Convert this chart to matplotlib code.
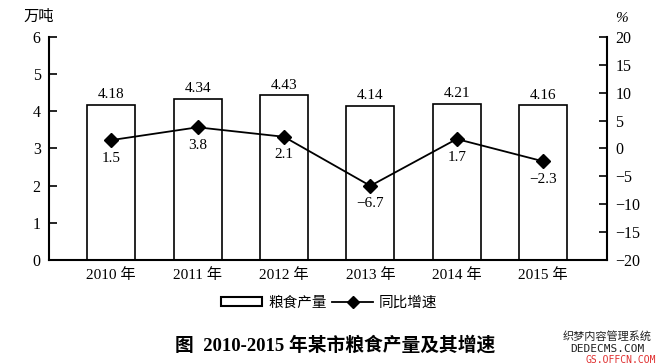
import matplotlib
matplotlib.use("Agg")
import matplotlib.pyplot as plt
from matplotlib.patches import Patch
from matplotlib.lines import Line2D

plt.rcParams['font.family'] = ['Liberation Serif', 'Noto Sans CJK SC']
plt.rcParams['axes.unicode_minus'] = True

years = ["2010 年", "2011 年", "2012 年", "2013 年", "2014 年", "2015 年"]
output = [4.18, 4.34, 4.43, 4.14, 4.21, 4.16]
growth = [1.5, 3.8, 2.1, -6.7, 1.7, -2.3]

fig = plt.figure(figsize=(6.71, 3.64), dpi=100)
ax = fig.add_axes([0.073, 0.2857, 0.8317, 0.6127])
x = list(range(len(years)))

ax.bar(x, output, width=0.556, color='white', edgecolor='black', linewidth=1.2, zorder=2)
ax.set_xlim(-0.72, 5.74)
ax.set_ylim(0, 6)
ax.set_yticks([0, 1, 2, 3, 4, 5, 6])
ax.set_xticks(x)
ax.set_xticklabels(years, fontsize=11)
ax.tick_params(axis='x', length=0, pad=6)
ax.tick_params(axis='y', direction='in', length=6, width=1.2, labelsize=11.5, pad=6)
for s in ['top', 'right']:
    ax.spines[s].set_visible(False)
for s in ['left', 'bottom']:
    ax.spines[s].set_linewidth(1.5)

for xi, v in zip(x, output):
    ax.text(xi, v + 0.1, f"{v:.2f}", ha='center', va='bottom', fontsize=11)

ax2 = ax.twinx()
ax2.plot(x, growth, color='black', linewidth=1.3, marker='D', markersize=7, zorder=3)
ax2.set_ylim(-20, 20)
ax2.set_yticks([-20, -15, -10, -5, 0, 5, 10, 15, 20])
ax2.set_yticklabels([str(t).replace('-', '\u2212') for t in [-20, -15, -10, -5, 0, 5, 10, 15, 20]])
ax2.tick_params(axis='y', direction='in', length=6, width=1.2, labelsize=11.5, pad=6)
for s in ['top', 'left', 'bottom']:
    ax2.spines[s].set_visible(False)
ax2.spines['right'].set_linewidth(1.5)

for xi, v in zip(x, growth):
    lbl = f"{v:.1f}".replace('-', '\u2212')
    ax2.annotate(lbl, (xi, v), xytext=(0, -13), textcoords='offset points',
                 ha='center', va='center', fontsize=11)

fig.text(0.057, 0.955, "万吨", fontsize=11, ha='center', va='center', family=['Noto Sans CJK SC'])
fig.text(0.926, 0.95, "%", fontsize=11, ha='center', va='center', style='italic')

handles = [Patch(facecolor='white', edgecolor='black', linewidth=1.5),
           Line2D([0], [0], color='black', marker='D', markersize=6, linewidth=1.3)]
fig.legend(handles, ["粮食产量", "同比增速"], loc='center', bbox_to_anchor=(0.491, 0.168), ncol=2,
           frameon=False, prop={'family': ['Noto Sans CJK SC'], 'size': 10.5},
           handlelength=2.8, handleheight=0.6, columnspacing=0.4, handletextpad=0.4)

fig.text(0.5, 0.052, "图  2010-2015 年某市粮食产量及其增速", fontsize=13.5, fontweight='bold',
         ha='center', va='center', family=['Liberation Serif', 'Noto Sans CJK SC'])

fig.text(0.905, 0.075, "织梦内容管理系统", fontsize=8, ha='center', va='center',
         family=['Noto Sans CJK SC'], color='#222222')
fig.text(0.905, 0.04, "DEDECMS.COM", fontsize=8, ha='center', va='center',
         family=['DejaVu Sans Mono'], color='#222222')
fig.text(0.925, 0.012, "GS.OFFCN.COM", fontsize=7, ha='center', va='center',
         family=['DejaVu Sans Mono'], color='#e03030')

fig.savefig("out.png", dpi=100)
